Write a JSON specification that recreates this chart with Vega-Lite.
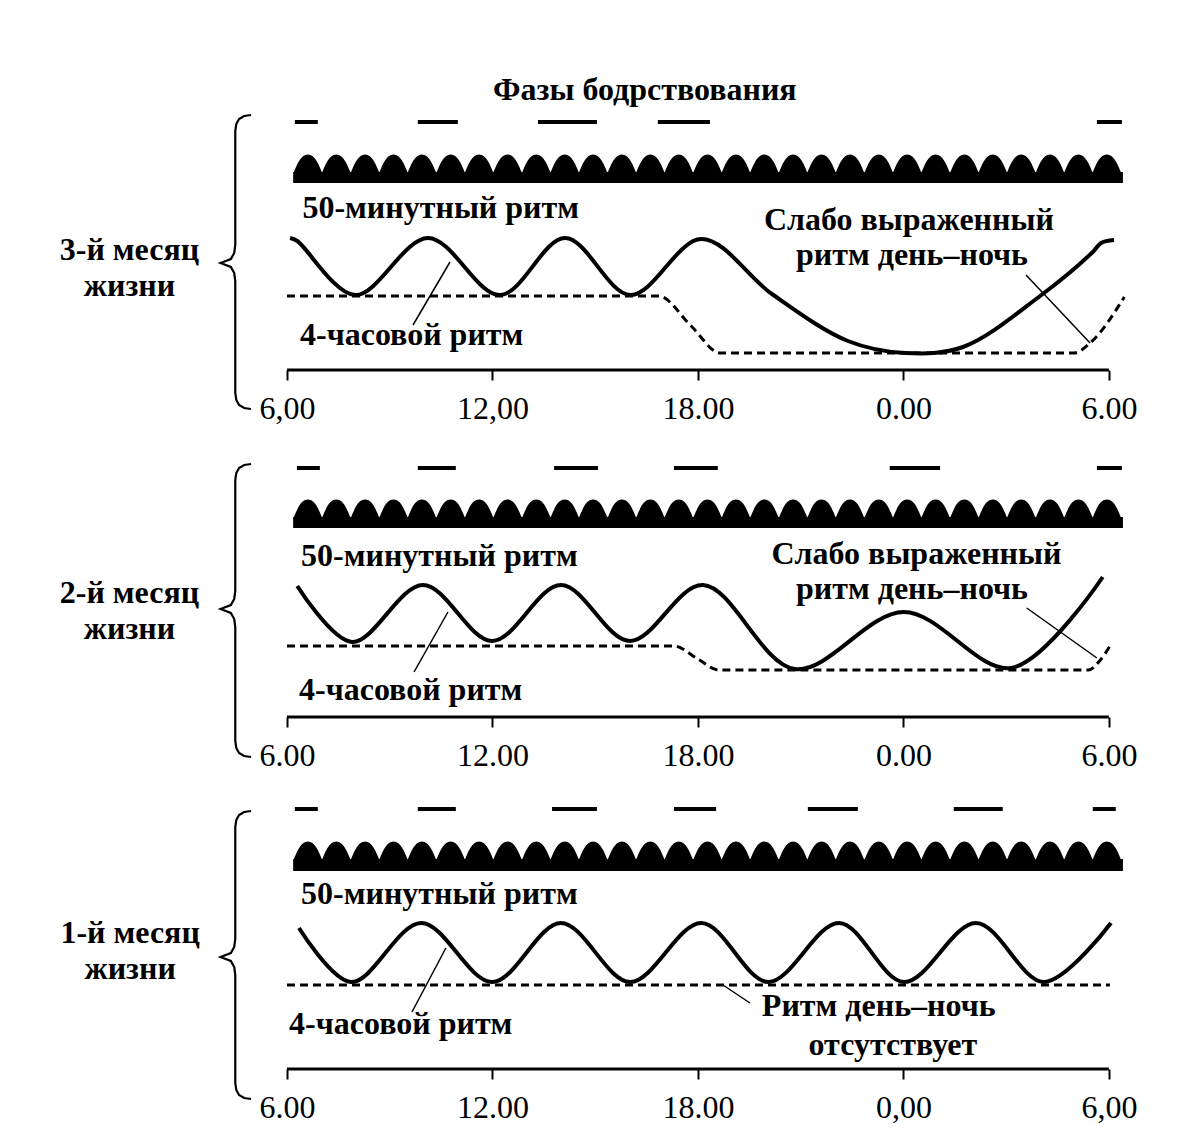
{
  "$schema": "https://vega.github.io/schema/vega-lite/v6.json",
  "padding": 0,
  "spacing": 0,
  "background": "white",
  "config": {
    "view": {"stroke": null},
    "axisX": {"domain": false, "grid": false, "ticks": true, "tickColor": "black", "tickWidth": 2, "tickSize": 10, "labelFont": "Liberation Serif", "labelFontSize": 32, "labelColor": "black", "labelPadding": 13, "labelFlush": false, "labelOverlap": false, "labelBound": false},
    "text": {"font": "Liberation Serif", "fontSize": 32, "fontWeight": "bold", "color": "black"}
  },
  "resolve": {"scale": {"x": "independent", "y": "independent"}, "axis": {"x": "independent", "y": "independent"}},
  "datasets": {
    "axisline": [{"t": 6, "t2": 30, "v": 0}],
    "wake": [
      {"p": 1, "t": 6.23, "t2": 6.9, "v": 248},
      {"p": 1, "t": 9.82, "t2": 10.99, "v": 248},
      {"p": 1, "t": 13.33, "t2": 15.05, "v": 248},
      {"p": 1, "t": 16.83, "t2": 18.35, "v": 248},
      {"p": 1, "t": 29.65, "t2": 30.38, "v": 248},
      {"p": 2, "t": 6.29, "t2": 6.96, "v": 249},
      {"p": 2, "t": 9.82, "t2": 10.93, "v": 249},
      {"p": 2, "t": 13.8, "t2": 15.08, "v": 249},
      {"p": 2, "t": 17.3, "t2": 18.58, "v": 249},
      {"p": 2, "t": 23.6, "t2": 25.07, "v": 249},
      {"p": 2, "t": 29.65, "t2": 30.38, "v": 249},
      {"p": 3, "t": 6.23, "t2": 6.9, "v": 260},
      {"p": 3, "t": 9.82, "t2": 10.93, "v": 260},
      {"p": 3, "t": 13.74, "t2": 15.05, "v": 260},
      {"p": 3, "t": 17.3, "t2": 18.53, "v": 260},
      {"p": 3, "t": 21.21, "t2": 22.67, "v": 260},
      {"p": 3, "t": 25.47, "t2": 26.9, "v": 260},
      {"p": 3, "t": 29.53, "t2": 30.2, "v": 260}
    ],
    "band": [
      {"p": 1, "t": 6.18, "t2": 30.41, "v": 187, "v2": 198},
      {"p": 2, "t": 6.18, "t2": 30.41, "v": 189, "v2": 200},
      {"p": 3, "t": 6.18, "t2": 30.41, "v": 198, "v2": 210}
    ],
    "humps": [
      {"t": 6.61}, {"t": 7.44}, {"t": 8.28}, {"t": 9.11}, {"t": 9.94}, {"t": 10.78}, {"t": 11.61}, {"t": 12.44}, {"t": 13.28}, {"t": 14.11},
      {"t": 14.94}, {"t": 15.78}, {"t": 16.61}, {"t": 17.44}, {"t": 18.28}, {"t": 19.11}, {"t": 19.94}, {"t": 20.78}, {"t": 21.61}, {"t": 22.44},
      {"t": 23.28}, {"t": 24.11}, {"t": 24.94}, {"t": 25.78}, {"t": 26.61}, {"t": 27.44}, {"t": 28.28}, {"t": 29.11}, {"t": 29.94}
    ],
    "solid": [
      {"p": 1, "t": 6.09, "v": 132}, {"p": 1, "t": 6.3, "v": 129}, {"p": 1, "t": 7.99, "v": 75}, {"p": 1, "t": 10.12, "v": 132},
      {"p": 1, "t": 12.22, "v": 75}, {"p": 1, "t": 14.12, "v": 132}, {"p": 1, "t": 16.03, "v": 75}, {"p": 1, "t": 18.1, "v": 131},
      {"p": 1, "t": 20.16, "v": 76}, {"p": 1, "t": 22.38, "v": 29}, {"p": 1, "t": 24.05, "v": 17}, {"p": 1, "t": 25.74, "v": 23},
      {"p": 1, "t": 27.99, "v": 74}, {"p": 1, "t": 29.53, "v": 118}, {"p": 1, "t": 29.77, "v": 127}, {"p": 1, "t": 30.15, "v": 130},
      {"p": 2, "t": 6.3, "v": 131}, {"p": 2, "t": 7.9, "v": 75}, {"p": 2, "t": 9.97, "v": 132}, {"p": 2, "t": 11.99, "v": 76},
      {"p": 2, "t": 14.0, "v": 132}, {"p": 2, "t": 16.01, "v": 76}, {"p": 2, "t": 18.15, "v": 132}, {"p": 2, "t": 20.83, "v": 48},
      {"p": 2, "t": 24.01, "v": 105}, {"p": 2, "t": 27.14, "v": 49}, {"p": 2, "t": 29.82, "v": 140},
      {"p": 3, "t": 6.35, "v": 141}, {"p": 3, "t": 7.88, "v": 87}, {"p": 3, "t": 9.92, "v": 146}, {"p": 3, "t": 11.99, "v": 87},
      {"p": 3, "t": 14.0, "v": 146}, {"p": 3, "t": 16.02, "v": 87}, {"p": 3, "t": 18.1, "v": 146}, {"p": 3, "t": 20.05, "v": 87},
      {"p": 3, "t": 22.12, "v": 146}, {"p": 3, "t": 24.02, "v": 87}, {"p": 3, "t": 26.12, "v": 146}, {"p": 3, "t": 28.1, "v": 87},
      {"p": 3, "t": 30.06, "v": 146}
    ],
    "dash": [
      {"p": 1, "t": 6.0, "v": 74}, {"p": 1, "t": 16.85, "v": 74}, {"p": 1, "t": 17.8, "v": 44}, {"p": 1, "t": 18.65, "v": 17},
      {"p": 1, "t": 28.98, "v": 17}, {"p": 1, "t": 29.45, "v": 27}, {"p": 1, "t": 30.45, "v": 73},
      {"p": 2, "t": 6.0, "v": 71}, {"p": 2, "t": 17.3, "v": 71}, {"p": 2, "t": 18.0, "v": 58}, {"p": 2, "t": 18.6, "v": 47},
      {"p": 2, "t": 29.4, "v": 47}, {"p": 2, "t": 29.75, "v": 57}, {"p": 2, "t": 30.05, "v": 72},
      {"p": 3, "t": 6.0, "v": 84}, {"p": 3, "t": 30.03, "v": 84}
    ],
    "lead": [
      {"p": 1, "g": "a", "t": 9.68, "v": 45}, {"p": 1, "g": "a", "t": 10.76, "v": 108},
      {"p": 1, "g": "b", "t": 27.58, "v": 95}, {"p": 1, "g": "b", "t": 29.45, "v": 27},
      {"p": 2, "g": "a", "t": 9.71, "v": 45}, {"p": 2, "g": "a", "t": 10.7, "v": 105},
      {"p": 2, "g": "b", "t": 27.6, "v": 109}, {"p": 2, "g": "b", "t": 29.65, "v": 59},
      {"p": 3, "g": "a", "t": 9.65, "v": 57}, {"p": 3, "g": "a", "t": 10.64, "v": 121},
      {"p": 3, "g": "b", "t": 18.73, "v": 84}, {"p": 3, "g": "b", "t": 19.52, "v": 66}
    ],
    "brace": [
      {"p": 1, "i": 0, "t": 4.95, "v": 255}, {"p": 1, "i": 1, "t": 4.75, "v": 254}, {"p": 1, "i": 2, "t": 4.6, "v": 251}, {"p": 1, "i": 3, "t": 4.52, "v": 246},
      {"p": 1, "i": 4, "t": 4.49, "v": 239}, {"p": 1, "i": 5, "t": 4.49, "v": 125}, {"p": 1, "i": 6, "t": 4.46, "v": 117}, {"p": 1, "i": 7, "t": 4.36, "v": 111},
      {"p": 1, "i": 8, "t": 4.06, "v": 107}, {"p": 1, "i": 9, "t": 4.36, "v": 103}, {"p": 1, "i": 10, "t": 4.46, "v": 97}, {"p": 1, "i": 11, "t": 4.49, "v": 89},
      {"p": 1, "i": 12, "t": 4.49, "v": -23}, {"p": 1, "i": 13, "t": 4.52, "v": -30}, {"p": 1, "i": 14, "t": 4.6, "v": -35}, {"p": 1, "i": 15, "t": 4.75, "v": -38},
      {"p": 1, "i": 16, "t": 4.95, "v": -39},
      {"p": 2, "i": 0, "t": 4.95, "v": 253}, {"p": 2, "i": 1, "t": 4.75, "v": 252}, {"p": 2, "i": 2, "t": 4.6, "v": 249}, {"p": 2, "i": 3, "t": 4.52, "v": 244},
      {"p": 2, "i": 4, "t": 4.49, "v": 237}, {"p": 2, "i": 5, "t": 4.49, "v": 126}, {"p": 2, "i": 6, "t": 4.46, "v": 118}, {"p": 2, "i": 7, "t": 4.36, "v": 112},
      {"p": 2, "i": 8, "t": 4.06, "v": 108}, {"p": 2, "i": 9, "t": 4.36, "v": 104}, {"p": 2, "i": 10, "t": 4.46, "v": 98}, {"p": 2, "i": 11, "t": 4.49, "v": 90},
      {"p": 2, "i": 12, "t": 4.49, "v": -24}, {"p": 2, "i": 13, "t": 4.52, "v": -31}, {"p": 2, "i": 14, "t": 4.6, "v": -36}, {"p": 2, "i": 15, "t": 4.75, "v": -39},
      {"p": 2, "i": 16, "t": 4.95, "v": -40},
      {"p": 3, "i": 0, "t": 4.95, "v": 258}, {"p": 3, "i": 1, "t": 4.75, "v": 257}, {"p": 3, "i": 2, "t": 4.6, "v": 254}, {"p": 3, "i": 3, "t": 4.52, "v": 249},
      {"p": 3, "i": 4, "t": 4.49, "v": 242}, {"p": 3, "i": 5, "t": 4.49, "v": 130}, {"p": 3, "i": 6, "t": 4.46, "v": 122}, {"p": 3, "i": 7, "t": 4.36, "v": 116},
      {"p": 3, "i": 8, "t": 4.06, "v": 112}, {"p": 3, "i": 9, "t": 4.36, "v": 108}, {"p": 3, "i": 10, "t": 4.46, "v": 102}, {"p": 3, "i": 11, "t": 4.49, "v": 94},
      {"p": 3, "i": 12, "t": 4.49, "v": -14}, {"p": 3, "i": 13, "t": 4.52, "v": -21}, {"p": 3, "i": 14, "t": 4.6, "v": -26}, {"p": 3, "i": 15, "t": 4.75, "v": -29},
      {"p": 3, "i": 16, "t": 4.95, "v": -30}
    ],
    "txt": [
      {"p": 1, "k": "c", "t": 16.45, "v": 270, "s": "Фазы бодрствования"},
      {"p": 1, "k": "l", "t": 6.45, "v": 152, "s": "50-минутный ритм"},
      {"p": 1, "k": "l", "t": 6.38, "v": 25, "s": "4-часовой ритм"},
      {"p": 1, "k": "c", "t": 24.16, "v": 140, "s": "Слабо выраженный"},
      {"p": 1, "k": "c", "t": 24.25, "v": 105, "s": "ритм день–ночь"},
      {"p": 1, "k": "c", "t": 1.4, "v": 110, "s": "3-й месяц"},
      {"p": 1, "k": "c", "t": 1.4, "v": 74, "s": "жизни"},
      {"p": 2, "k": "l", "t": 6.41, "v": 151, "s": "50-минутный ритм"},
      {"p": 2, "k": "l", "t": 6.35, "v": 17, "s": "4-часовой ритм"},
      {"p": 2, "k": "c", "t": 24.38, "v": 153, "s": "Слабо выраженный"},
      {"p": 2, "k": "c", "t": 24.25, "v": 118, "s": "ритм день–ночь"},
      {"p": 2, "k": "c", "t": 1.4, "v": 114, "s": "2-й месяц"},
      {"p": 2, "k": "c", "t": 1.4, "v": 78, "s": "жизни"},
      {"p": 3, "k": "l", "t": 6.41, "v": 165, "s": "50-минутный ритм"},
      {"p": 3, "k": "l", "t": 6.06, "v": 35, "s": "4-часовой ритм"},
      {"p": 3, "k": "c", "t": 23.28, "v": 53, "s": "Ритм день–ночь"},
      {"p": 3, "k": "c", "t": 23.69, "v": 14, "s": "отсутствует"},
      {"p": 3, "k": "c", "t": 1.42, "v": 126, "s": "1-й месяц"},
      {"p": 3, "k": "c", "t": 1.42, "v": 90, "s": "жизни"}
    ]
  },
  "vconcat": [
    {
      "width": 1200,
      "height": 370,
      "encoding": {
        "x": {"field": "t", "type": "quantitative", "scale": {"domain": [-2.38, 32.66], "nice": false, "zero": false},
              "axis": {"title": null, "values": [6, 12, 18, 24, 30], "labelExpr": "datum.value == 6 ? '6,00' : datum.value == 12 ? '12,00' : datum.value == 18 ? '18.00' : datum.value == 24 ? '0.00' : '6.00'"}}
      },
      "layer": [
        {"data": {"name": "axisline"}, "mark": {"type": "rule", "strokeWidth": 3, "color": "black"}, "encoding": {"x2": {"field": "t2"}, "y": {"field": "v", "type": "quantitative", "scale": {"domain": [0, 370], "nice": false, "zero": false}, "axis": null}}},
        {"data": {"name": "wake"}, "transform": [{"filter": "datum.p == 1"}], "mark": {"type": "rule", "strokeWidth": 4, "color": "black"}, "encoding": {"x2": {"field": "t2"}, "y": {"field": "v", "type": "quantitative", "axis": null}}},
        {"data": {"name": "band"}, "transform": [{"filter": "datum.p == 1"}], "mark": {"type": "rect", "color": "black"}, "encoding": {"x2": {"field": "t2"}, "y": {"field": "v", "type": "quantitative", "axis": null}, "y2": {"field": "v2"}}},
        {"data": {"name": "humps"}, "mark": {"type": "point", "shape": "M-1,0.65 C-0.75,0.05 -0.5,-0.65 0,-0.65 C0.5,-0.65 0.75,0.05 1,0.65 Z", "filled": true, "color": "black", "opacity": 1, "size": 840, "strokeWidth": 0}, "encoding": {"y": {"datum": 206, "type": "quantitative", "axis": null}}},
        {"data": {"name": "dash"}, "transform": [{"filter": "datum.p == 1"}], "mark": {"type": "line", "interpolate": "monotone", "strokeDash": [8, 5], "strokeWidth": 3, "color": "black"}, "encoding": {"y": {"field": "v", "type": "quantitative", "axis": null}}},
        {"data": {"name": "solid"}, "transform": [{"filter": "datum.p == 1"}], "mark": {"type": "line", "interpolate": "catmull-rom", "strokeWidth": 4, "color": "black"}, "encoding": {"y": {"field": "v", "type": "quantitative", "axis": null}}},
        {"data": {"name": "lead"}, "transform": [{"filter": "datum.p == 1"}], "mark": {"type": "line", "strokeWidth": 1.5, "color": "black"}, "encoding": {"y": {"field": "v", "type": "quantitative", "axis": null}, "detail": {"field": "g"}}},
        {"data": {"name": "brace"}, "transform": [{"filter": "datum.p == 1"}], "mark": {"type": "line", "strokeWidth": 2.2, "color": "black"}, "encoding": {"y": {"field": "v", "type": "quantitative", "axis": null}, "order": {"field": "i"}}},
        {"data": {"name": "txt"}, "transform": [{"filter": "datum.p == 1 && datum.k == 'l'"}], "mark": {"type": "text", "align": "left", "baseline": "alphabetic"}, "encoding": {"y": {"field": "v", "type": "quantitative", "axis": null}, "text": {"field": "s"}}},
        {"data": {"name": "txt"}, "transform": [{"filter": "datum.p == 1 && datum.k == 'c'"}], "mark": {"type": "text", "align": "center", "baseline": "alphabetic"}, "encoding": {"y": {"field": "v", "type": "quantitative", "axis": null}, "text": {"field": "s"}}}
      ]
    },
    {
      "width": 1200,
      "height": 293,
      "encoding": {
        "x": {"field": "t", "type": "quantitative", "scale": {"domain": [-2.38, 32.66], "nice": false, "zero": false},
              "axis": {"title": null, "values": [6, 12, 18, 24, 30], "labelExpr": "datum.value == 6 ? '6.00' : datum.value == 12 ? '12.00' : datum.value == 18 ? '18.00' : datum.value == 24 ? '0.00' : '6.00'"}}
      },
      "layer": [
        {"data": {"name": "axisline"}, "mark": {"type": "rule", "strokeWidth": 3, "color": "black"}, "encoding": {"x2": {"field": "t2"}, "y": {"field": "v", "type": "quantitative", "scale": {"domain": [0, 293], "nice": false, "zero": false}, "axis": null}}},
        {"data": {"name": "wake"}, "transform": [{"filter": "datum.p == 2"}], "mark": {"type": "rule", "strokeWidth": 4, "color": "black"}, "encoding": {"x2": {"field": "t2"}, "y": {"field": "v", "type": "quantitative", "axis": null}}},
        {"data": {"name": "band"}, "transform": [{"filter": "datum.p == 2"}], "mark": {"type": "rect", "color": "black"}, "encoding": {"x2": {"field": "t2"}, "y": {"field": "v", "type": "quantitative", "axis": null}, "y2": {"field": "v2"}}},
        {"data": {"name": "humps"}, "mark": {"type": "point", "shape": "M-1,0.65 C-0.75,0.05 -0.5,-0.65 0,-0.65 C0.5,-0.65 0.75,0.05 1,0.65 Z", "filled": true, "color": "black", "opacity": 1, "size": 840, "strokeWidth": 0}, "encoding": {"y": {"datum": 208, "type": "quantitative", "axis": null}}},
        {"data": {"name": "dash"}, "transform": [{"filter": "datum.p == 2"}], "mark": {"type": "line", "interpolate": "monotone", "strokeDash": [8, 5], "strokeWidth": 3, "color": "black"}, "encoding": {"y": {"field": "v", "type": "quantitative", "axis": null}}},
        {"data": {"name": "solid"}, "transform": [{"filter": "datum.p == 2"}], "mark": {"type": "line", "interpolate": "catmull-rom", "strokeWidth": 4, "color": "black"}, "encoding": {"y": {"field": "v", "type": "quantitative", "axis": null}}},
        {"data": {"name": "lead"}, "transform": [{"filter": "datum.p == 2"}], "mark": {"type": "line", "strokeWidth": 1.5, "color": "black"}, "encoding": {"y": {"field": "v", "type": "quantitative", "axis": null}, "detail": {"field": "g"}}},
        {"data": {"name": "brace"}, "transform": [{"filter": "datum.p == 2"}], "mark": {"type": "line", "strokeWidth": 2.2, "color": "black"}, "encoding": {"y": {"field": "v", "type": "quantitative", "axis": null}, "order": {"field": "i"}}},
        {"data": {"name": "txt"}, "transform": [{"filter": "datum.p == 2 && datum.k == 'l'"}], "mark": {"type": "text", "align": "left", "baseline": "alphabetic"}, "encoding": {"y": {"field": "v", "type": "quantitative", "axis": null}, "text": {"field": "s"}}},
        {"data": {"name": "txt"}, "transform": [{"filter": "datum.p == 2 && datum.k == 'c'"}], "mark": {"type": "text", "align": "center", "baseline": "alphabetic"}, "encoding": {"y": {"field": "v", "type": "quantitative", "axis": null}, "text": {"field": "s"}}}
      ]
    },
    {
      "width": 1200,
      "height": 298,
      "encoding": {
        "x": {"field": "t", "type": "quantitative", "scale": {"domain": [-2.38, 32.66], "nice": false, "zero": false},
              "axis": {"title": null, "values": [6, 12, 18, 24, 30], "labelExpr": "datum.value == 6 ? '6.00' : datum.value == 12 ? '12.00' : datum.value == 18 ? '18.00' : datum.value == 24 ? '0,00' : '6,00'"}}
      },
      "layer": [
        {"data": {"name": "axisline"}, "mark": {"type": "rule", "strokeWidth": 3, "color": "black"}, "encoding": {"x2": {"field": "t2"}, "y": {"field": "v", "type": "quantitative", "scale": {"domain": [0, 298], "nice": false, "zero": false}, "axis": null}}},
        {"data": {"name": "wake"}, "transform": [{"filter": "datum.p == 3"}], "mark": {"type": "rule", "strokeWidth": 4, "color": "black"}, "encoding": {"x2": {"field": "t2"}, "y": {"field": "v", "type": "quantitative", "axis": null}}},
        {"data": {"name": "band"}, "transform": [{"filter": "datum.p == 3"}], "mark": {"type": "rect", "color": "black"}, "encoding": {"x2": {"field": "t2"}, "y": {"field": "v", "type": "quantitative", "axis": null}, "y2": {"field": "v2"}}},
        {"data": {"name": "humps"}, "mark": {"type": "point", "shape": "M-1,0.65 C-0.75,0.05 -0.5,-0.65 0,-0.65 C0.5,-0.65 0.75,0.05 1,0.65 Z", "filled": true, "color": "black", "opacity": 1, "size": 840, "strokeWidth": 0}, "encoding": {"y": {"datum": 218, "type": "quantitative", "axis": null}}},
        {"data": {"name": "dash"}, "transform": [{"filter": "datum.p == 3"}], "mark": {"type": "line", "interpolate": "monotone", "strokeDash": [8, 5], "strokeWidth": 3, "color": "black"}, "encoding": {"y": {"field": "v", "type": "quantitative", "axis": null}}},
        {"data": {"name": "solid"}, "transform": [{"filter": "datum.p == 3"}], "mark": {"type": "line", "interpolate": "catmull-rom", "strokeWidth": 4, "color": "black"}, "encoding": {"y": {"field": "v", "type": "quantitative", "axis": null}}},
        {"data": {"name": "lead"}, "transform": [{"filter": "datum.p == 3"}], "mark": {"type": "line", "strokeWidth": 1.5, "color": "black"}, "encoding": {"y": {"field": "v", "type": "quantitative", "axis": null}, "detail": {"field": "g"}}},
        {"data": {"name": "brace"}, "transform": [{"filter": "datum.p == 3"}], "mark": {"type": "line", "strokeWidth": 2.2, "color": "black"}, "encoding": {"y": {"field": "v", "type": "quantitative", "axis": null}, "order": {"field": "i"}}},
        {"data": {"name": "txt"}, "transform": [{"filter": "datum.p == 3 && datum.k == 'l'"}], "mark": {"type": "text", "align": "left", "baseline": "alphabetic"}, "encoding": {"y": {"field": "v", "type": "quantitative", "axis": null}, "text": {"field": "s"}}},
        {"data": {"name": "txt"}, "transform": [{"filter": "datum.p == 3 && datum.k == 'c'"}], "mark": {"type": "text", "align": "center", "baseline": "alphabetic"}, "encoding": {"y": {"field": "v", "type": "quantitative", "axis": null}, "text": {"field": "s"}}}
      ]
    }
  ]
}
